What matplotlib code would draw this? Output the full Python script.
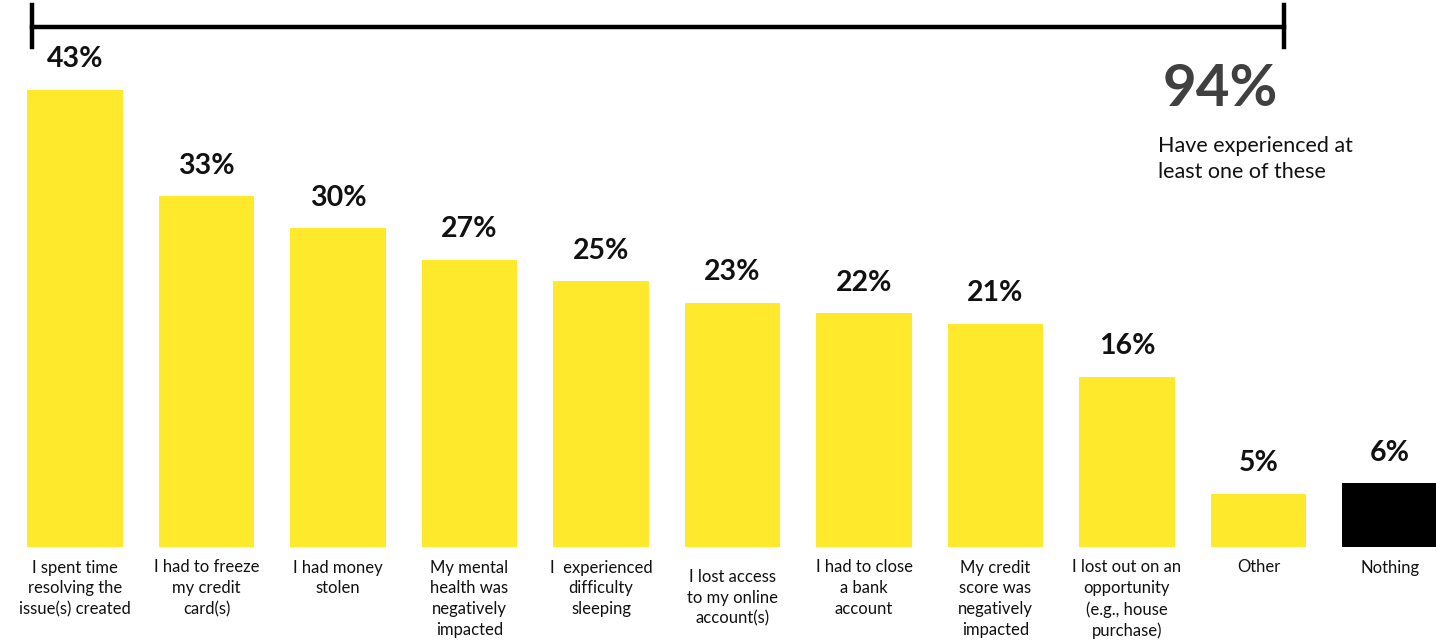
import matplotlib.pyplot as plt
import numpy as np

# dati
categorie = ['I spent time\nresolving the\nissue(s) created',
             'I had to freeze\nmy credit\ncard(s)',
             'I had money\nstolen',
             'My mental\nhealth was\nnegatively\nimpacted',
             'I  experienced\ndifficulty\nsleeping',
             'I lost access\nto my online\naccount(s)',
             'I had to close\na bank\naccount',
             'My credit\nscore was\nnegatively\nimpacted',
             'I lost out on an\nopportunity\n(e.g., house\npurchase)',
             'Other',
             'Nothing']
valori = [43, 33, 30, 27, 25, 23, 22, 21, 16, 5, 6]
totale = 94
testo_totale = 'Have experienced at\nleast one of these'

giallo = '#FFE92D'
colori = [giallo] * 10 + ['#000000']

plt.rcParams['font.family'] = ['Lato', 'DejaVu Sans']

fig = plt.figure(figsize=(14.36, 6.43), dpi=100)
ax = fig.add_axes([0, 96 / 643, 1, 547 / 643])

x = np.arange(len(valori))
ax.bar(x, valori, width=0.73, color=colori)
ax.set_xlim(-75 / 131.5, (1436 - 75) / 131.5)
ax.set_ylim(0, 547 / 10.63)
ax.axis('off')

# etichette dei valori
for xi, v in zip(x, valori):
    ax.annotate(f'{v}%', (xi, v), xytext=(0, 22), textcoords='offset points',
                ha='center', va='center', fontsize=20.5, fontweight='bold', color='#111111')

# etichette delle categorie
for xi, c in zip(x, categorie):
    dy = -16 if xi == 5 else -9
    ax.annotate(c, (xi, 0), xytext=(0, dy), textcoords='offset points',
                ha='center', va='top', fontsize=12, color='#111111', linespacing=1.36)

# parentesi in alto
W, H = 1436, 643
fig.add_artist(plt.Line2D([32 / W, 1284 / W], [1 - 27 / H, 1 - 27 / H], color='black', lw=3.2))
for px in (32, 1284):
    fig.add_artist(plt.Line2D([px / W, px / W], [1 - 5 / H, 1 - 47 / H], color='black', lw=3.2))

fig.text(1220 / W, 1 - 90 / H, f'{totale}%', ha='center', va='center',
         fontsize=42, fontweight='bold', color='#404040')
fig.text(1158 / W, 1 - 136 / H, testo_totale, ha='left', va='top',
         fontsize=15.5, color='#111111', linespacing=1.38)

fig.savefig('out.png', dpi=100)
